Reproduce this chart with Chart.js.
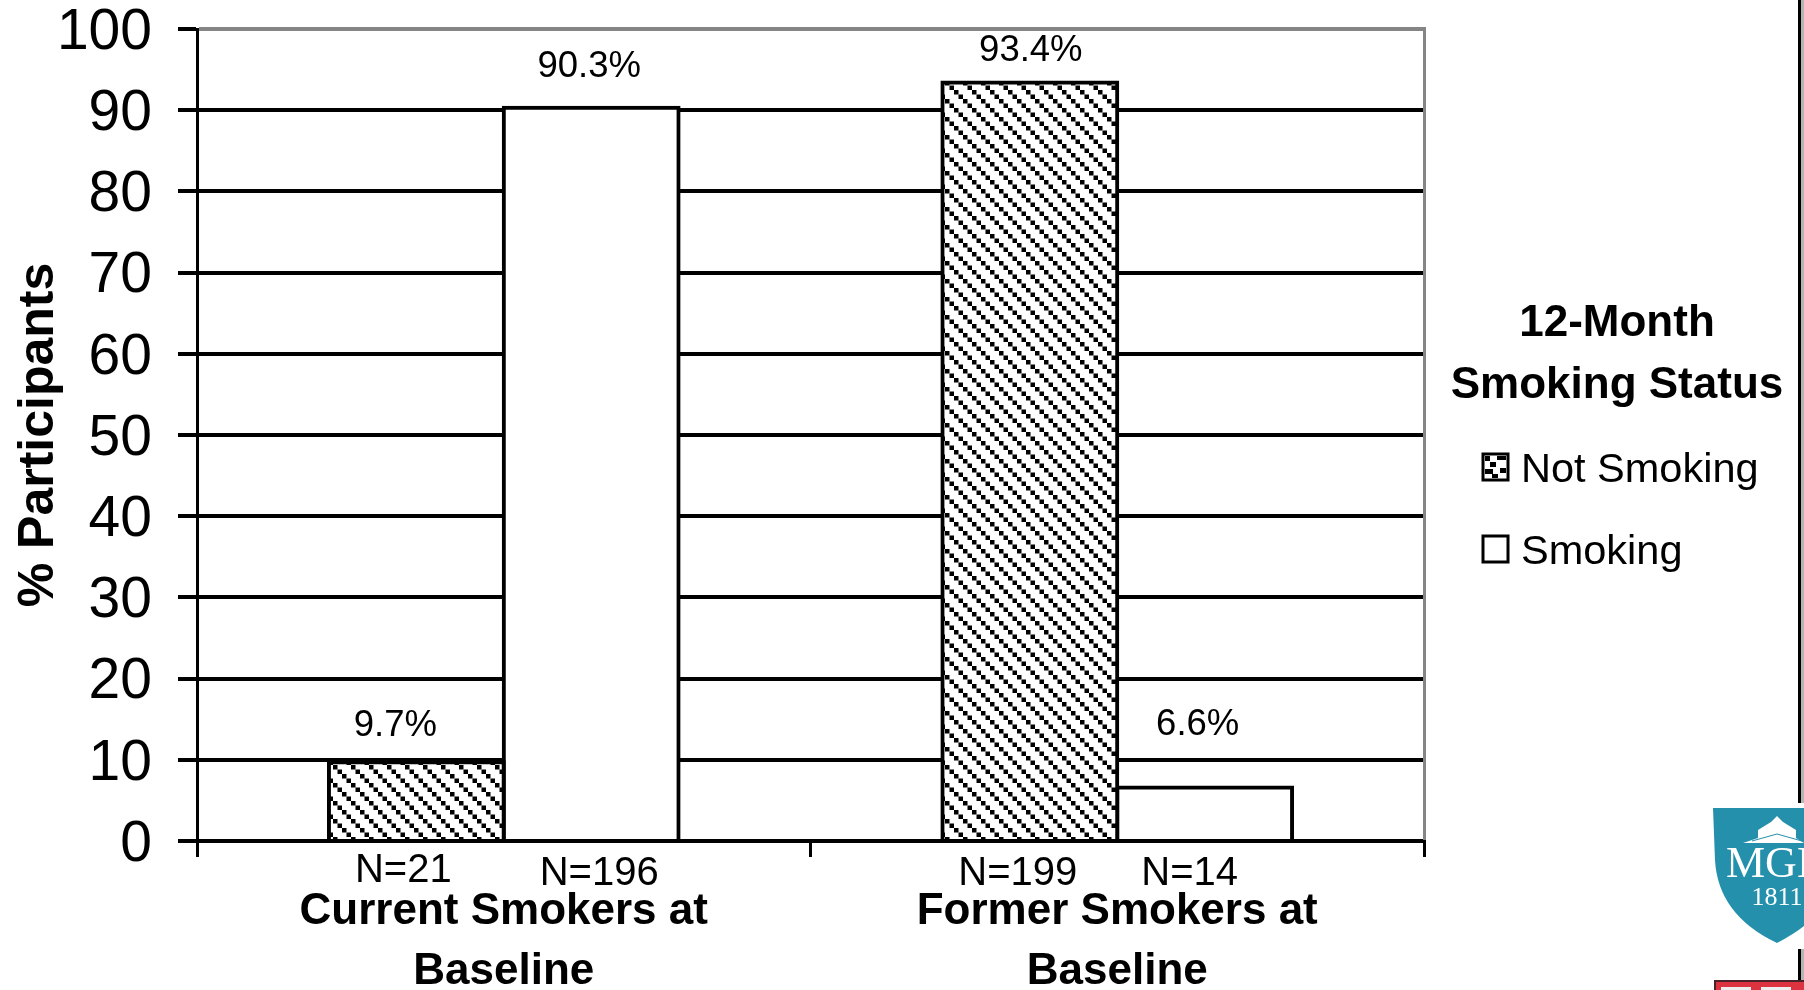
<!DOCTYPE html>
<html>
<head>
<meta charset="utf-8">
<title>12-Month Smoking Status</title>
<script src="https://cdn.jsdelivr.net/npm/chart.js@4"></script>
<style>
  html, body { margin: 0; padding: 0; background: #fff; }
  canvas { display: block; }
</style>
</head>
<body>
<canvas id="smokingChart" width="1804" height="990"></canvas>
<script>
const FONT = '"Liberation Sans", Arial, sans-serif';

// data
const categories = [['Current Smokers at', 'Baseline'], ['Former Smokers at', 'Baseline']];
const seriesNames = ['Not Smoking', 'Smoking'];
const notSmoking = [9.7, 93.4];
const smoking = [90.3, 6.6];
const notSmokingN = ['N=21', 'N=199'];
const smokingN = ['N=196', 'N=14'];
const legendTitle = ['12-Month', 'Smoking Status'];

// diagonal stair hatch for the Not Smoking bars
function makeHatch() {
  const tile = document.createElement('canvas');
  tile.width = 18;
  tile.height = 18;
  const c = tile.getContext('2d');
  c.fillStyle = '#fff';
  c.fillRect(0, 0, 18, 18);
  c.fillStyle = '#000';
  for (let i = 0; i < 4; i++) {
    c.fillRect(i * 4.5, i * 4.5, 4.5, 4.5);
  }
  return c.createPattern(tile, 'repeat');
}

// label nudges relative to each bar: [dx, px above the bar top]
const pctNudgeA = [[-21, 36], [1, 32]];
const pctNudgeB = [[-2, 41], [-7, 62]];
const nNudgeA = [-13, -12];
const nNudgeB = [8, -15];

const annotations = {
  id: 'annotations',
  afterDatasetsDraw(chart) {
    const ctx = chart.ctx;
    const area = chart.chartArea;
    const y = chart.scales.y;
    ctx.save();

    // grey frame on the right, black stub under zero
    ctx.fillStyle = '#858585';
    ctx.fillRect(area.right - 1, area.top - 2, 3, area.bottom - area.top + 2);
    ctx.fillStyle = '#000';
    ctx.fillRect(area.right - 1, area.bottom - 1, 3, 17);

    // value and N labels on each bar
    ctx.fillStyle = '#000';
    ctx.textAlign = 'center';
    ctx.textBaseline = 'middle';
    [notSmoking, smoking].forEach((vals, ds) => {
      const meta = chart.getDatasetMeta(ds);
      const nudge = ds === 0 ? pctNudgeA : pctNudgeB;
      const nn = ds === 0 ? nNudgeA : nNudgeB;
      const ns = ds === 0 ? notSmokingN : smokingN;
      vals.forEach((v, i) => {
        const bar = meta.data[i];
        ctx.font = '36.5px ' + FONT;
        ctx.fillText(v.toFixed(1) + '%', bar.x + nudge[i][0], y.getPixelForValue(v) - nudge[i][1]);
        ctx.font = '40px ' + FONT;
        ctx.fillText(ns[i], bar.x + nn[i], area.bottom + (ds === 0 && i === 0 ? 30 : 33));
      });
    });

    // legend
    ctx.font = 'bold 44px ' + FONT;
    ctx.fillText(legendTitle[0], 1617, 324);
    ctx.fillText(legendTitle[1], 1617, 386);
    ctx.textAlign = 'left';
    ctx.font = '41.5px ' + FONT;
    seriesNames.forEach((name, i) => {
      const top = 454 + i * 82;
      ctx.strokeStyle = '#000';
      ctx.lineWidth = 3;
      ctx.fillStyle = '#fff';
      ctx.fillRect(1483, top, 25, 26);
      ctx.strokeRect(1483, top, 25, 26);
      ctx.fillStyle = '#000';
      if (i === 0) {
        ctx.fillRect(1485, top + 2, 5, 5);
        ctx.fillRect(1497, top + 2, 9, 4);
        ctx.fillRect(1490, top + 8, 6, 5);
        ctx.fillRect(1485, top + 15, 8, 5);
        ctx.fillRect(1500, top + 14, 6, 5);
        ctx.fillRect(1492, top + 20, 6, 4);
      }
      ctx.fillText(name, 1521, 471 + i * 82);
    });

    // black slide edge, broken by the logo
    ctx.fillStyle = '#000';
    ctx.fillRect(1798, 0, 3, 803);
    ctx.fillRect(1798, 949, 3, 31);
    ctx.fillStyle = '#b4b4b4';
    ctx.fillRect(1801, 0, 3, 803);
    ctx.fillRect(1801, 949, 3, 31);

    // MGH shield
    ctx.fillStyle = '#2490ab';
    ctx.beginPath();
    ctx.moveTo(1713, 808);
    ctx.lineTo(1804, 808);
    ctx.lineTo(1804, 926);
    ctx.quadraticCurveTo(1794, 934, 1777, 943);
    ctx.quadraticCurveTo(1718, 915, 1715, 860);
    ctx.closePath();
    ctx.fill();
    ctx.fillStyle = '#fff';
    ctx.beginPath();
    ctx.moveTo(1777, 816);
    ctx.lineTo(1783, 822);
    ctx.lineTo(1796, 830);
    ctx.lineTo(1796, 838);
    ctx.lineTo(1804, 843);
    ctx.lineTo(1743, 843);
    ctx.lineTo(1758, 838);
    ctx.lineTo(1758, 830);
    ctx.lineTo(1771, 822);
    ctx.closePath();
    ctx.fill();
    ctx.strokeStyle = '#2490ab';
    ctx.lineWidth = 1;
    ctx.beginPath();
    ctx.moveTo(1752, 841);
    ctx.lineTo(1777, 834);
    ctx.lineTo(1802, 841);
    ctx.stroke();
    ctx.fillStyle = '#fff';
    ctx.font = '44px "Liberation Serif", serif';
    ctx.textBaseline = 'alphabetic';
    ctx.fillText('MGH', 1726, 877);
    ctx.font = '26px "Liberation Serif", serif';
    ctx.textAlign = 'center';
    ctx.fillText('1811', 1777, 905);

    // red crest peeking in at the bottom
    ctx.fillStyle = '#4a2328';
    ctx.fillRect(1714, 980, 90, 10);
    ctx.fillStyle = '#dd3340';
    ctx.fillRect(1716, 982, 88, 8);
    ctx.fillStyle = '#eee';
    [1721, 1761].forEach(x => ctx.fillRect(x, 987, 30, 3));
    ctx.restore();
  }
};

new Chart(document.getElementById('smokingChart').getContext('2d'), {
  type: 'bar',
  data: {
    labels: categories,
    datasets: [
      {
        label: seriesNames[0],
        data: notSmoking,
        backgroundColor: makeHatch(),
        borderColor: '#000',
        borderWidth: 4,
        inflateAmount: 2,
        barPercentage: 1,
        categoryPercentage: 0.57
      },
      {
        label: seriesNames[1],
        data: smoking,
        backgroundColor: '#fff',
        borderColor: '#000',
        borderWidth: 4,
        inflateAmount: 2,
        barPercentage: 1,
        categoryPercentage: 0.57
      }
    ]
  },
  plugins: [annotations],
  options: {
    responsive: false,
    animation: false,
    devicePixelRatio: 1,
    layout: { padding: { top: 29, right: 380, left: 0, bottom: 0 } },
    plugins: {
      legend: { display: false },
      tooltip: { enabled: false }
    },
    scales: {
      x: {
        afterFit(scale) { scale.height = 149; },
        grid: {
          offset: true,
          drawOnChartArea: false,
          color: '#000',
          lineWidth: 3,
          tickLength: 16
        },
        border: { color: '#000', width: 4 },
        ticks: {
          color: '#000',
          padding: 25,
          maxRotation: 0,
          font: { family: FONT, size: 44, weight: 'bold', lineHeight: 1.36 }
        }
      },
      y: {
        min: 0,
        max: 100,
        afterFit(scale) {
          scale.width = 197;
          scale.paddingTop = 0;
          scale.paddingBottom = 0;
        },
        grid: {
          color: ctx => (ctx.tick && ctx.tick.value === 100 ? '#858585' : '#000'),
          tickColor: '#000',
          lineWidth: 4,
          tickLength: 19
        },
        border: { color: '#000', width: 3 },
        ticks: {
          stepSize: 10,
          color: '#000',
          padding: 26,
          labelOffset: 4,
          font: { family: FONT, size: 57 }
        },
        title: {
          display: true,
          text: '% Participants',
          color: '#000',
          padding: { top: 9, bottom: 0 },
          font: { family: FONT, size: 50, weight: 'bold' }
        }
      }
    }
  }
});
</script>
</body>
</html>
